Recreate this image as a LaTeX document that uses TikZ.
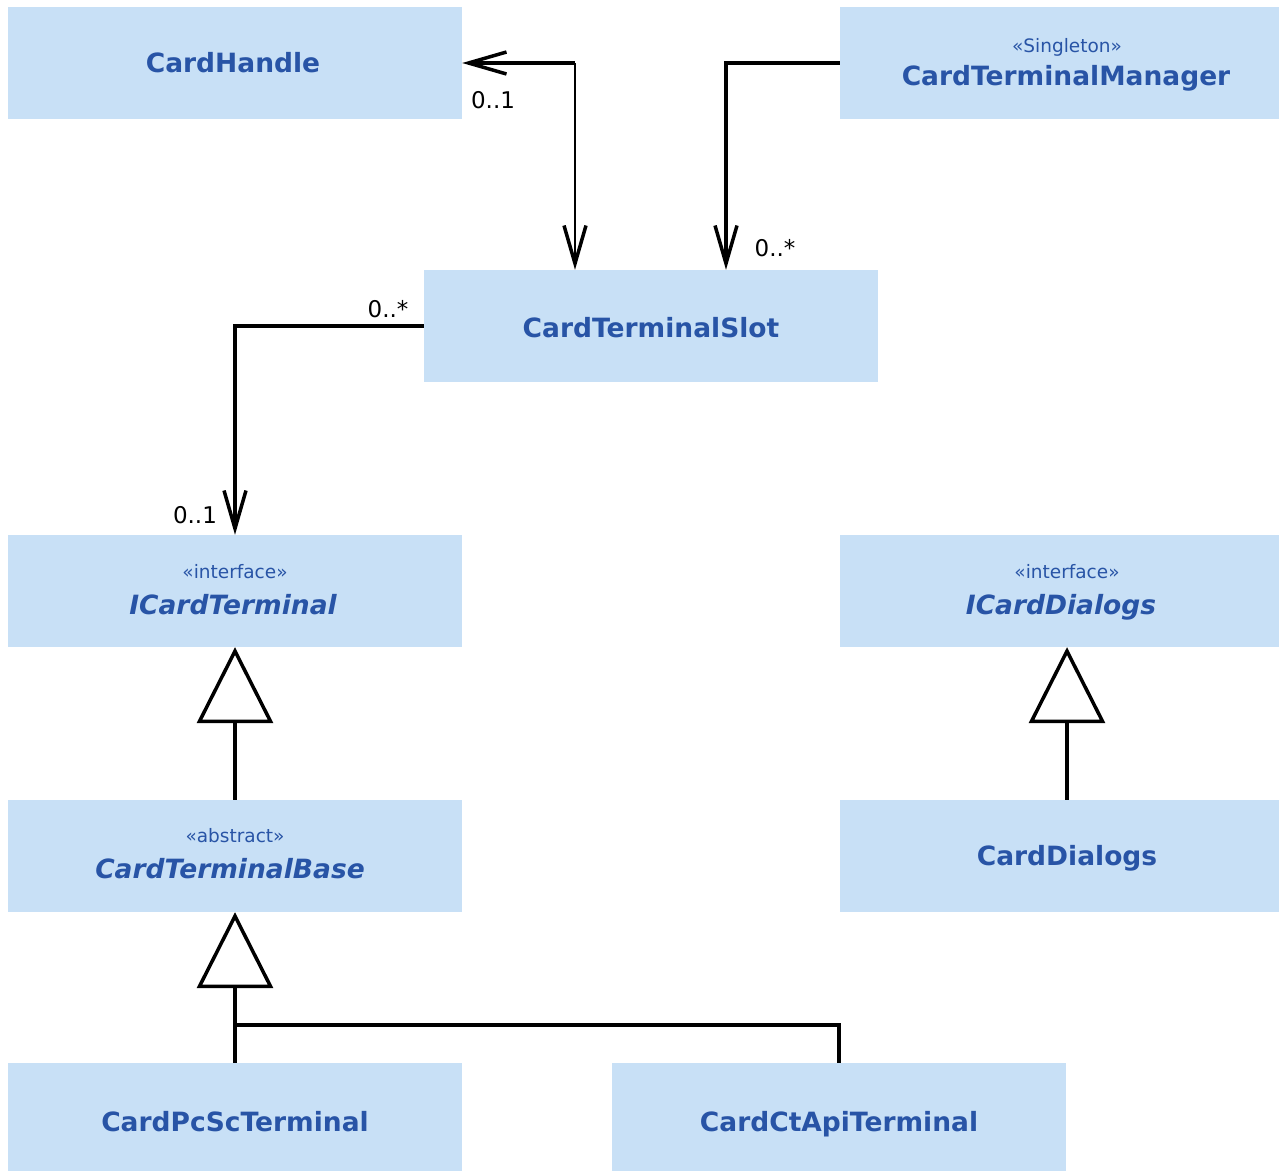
\documentclass[tikz,border=0pt]{standalone}
\usepackage{fontspec}
\setmainfont{DejaVu Sans}
\usetikzlibrary{arrows.meta}
\definecolor{boxfill}{RGB}{200,224,246}
\definecolor{boxtext}{RGB}{40,84,166}
\tikzset{
  umlbox/.style={fill=boxfill, draw=none, minimum width=454pt, minimum height=112pt, inner sep=0pt},
  nametext/.style={text=boxtext, font=\fontsize{26.5}{30}\selectfont\bfseries, anchor=base, inner sep=0pt},
  italname/.style={nametext, font=\fontsize{26.5}{30}\selectfont\bfseries\itshape},
  stereo/.style={text=boxtext, font=\fontsize{18.5}{22}\selectfont, anchor=base, inner sep=0pt},
  mult/.style={text=black, font=\fontsize{23}{26}\selectfont, inner sep=0pt},
  thickline/.style={line width=3.5pt, black},
  thinline/.style={line width=1.8pt, black},
  opentip/.style={-{Straight Barb[length=38pt,width=22pt,line width=3.5pt]}},
  opentipstart/.style={{Straight Barb[length=38pt,width=22pt,line width=3.5pt]}-},
  gen/.style={line width=3.5pt, black, -{Triangle[open, length=76pt, width=76pt, fill=white, line width=3.5pt]}}
}
\begin{document}
\begin{tikzpicture}[x=1pt,y=-1pt]
\useasboundingbox[fill=white] (0,0) rectangle (1279,1170);
% boxes
\node[umlbox] (ch) at (235,63) {};
\node[umlbox] (ctm) at (1067,63) {};
\node[umlbox] (slot) at (651,326) {};
\node[umlbox] (ict) at (235,591) {};
\node[umlbox] (icd) at (1067,591) {};
\node[umlbox] (ctb) at (235,856) {};
\node[umlbox] (cd) at (1067,856) {};
\node[umlbox] (pcsc) at (235,1119) {};
\node[umlbox] (ctapi) at (839,1119) {};
% texts
\node[nametext] (chT) at ([yshift=-9pt,xshift=-2pt]ch.center) {CardHandle};
\node[stereo] (ctmS) at ([yshift=11pt]ctm.center) {«Singleton»};
\node[nametext] (ctmT) at ([yshift=-22pt,xshift=-1pt]ctm.center) {CardTerminalManager};
\node[nametext] (slotT) at ([yshift=-11pt]slot.center) {CardTerminalSlot};
\node[stereo] (ictS) at ([yshift=13pt]ict.center) {«interface»};
\node[italname] (ictT) at ([yshift=-23pt,xshift=-2pt]ict.center) {ICardTerminal};
\node[stereo] (icdS) at ([yshift=13pt]icd.center) {«interface»};
\node[italname] (icdT) at ([yshift=-23pt,xshift=-6pt]icd.center) {ICardDialogs};
\node[stereo] (ctbS) at ([yshift=14pt]ctb.center) {«abstract»};
\node[italname] (ctbT) at ([yshift=-22pt,xshift=-5pt]ctb.center) {CardTerminalBase};
\node[nametext] (cdT) at ([yshift=-9pt]cd.center) {CardDialogs};
\node[nametext] (pcscT) at ([yshift=-12pt]pcsc.center) {CardPcScTerminal};
\node[nametext] (ctapiT) at ([yshift=-12pt]ctapi.center) {CardCtApiTerminal};
% multiplicities
\node[mult] (m1) at (493,100) {0..1};
\node[mult] (m2) at (775,248) {0..*};
\node[mult] (m3) at (388,309) {0..*};
\node[mult] (m4) at (195,515) {0..1};
% connectors
\coordinate (c1) at (575,63);
\coordinate (c2) at (726,63);
\coordinate (j) at (235,1025);
\draw[thickline, opentipstart] (ch.east) -- (c1);
\draw[thinline, opentip] (c1) -- (c1 |- slot.north);
\draw[thickline, opentip] (ctm.west) -- (c2) -- (c2 |- slot.north);
\draw[thickline, opentip] (slot.west) -| (ict.north);
\draw[gen] (ctb.north) -- (ict.south);
\draw[gen] (cd.north) -- (icd.south);
\draw[gen] (pcsc.north) -- (ctb.south);
\draw[thickline] (ctapi.north) |- (j);
\end{tikzpicture}
\end{document}
